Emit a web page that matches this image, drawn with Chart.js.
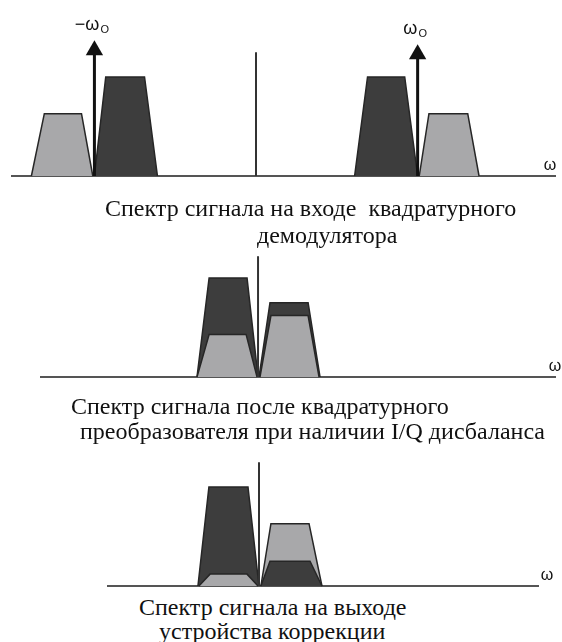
<!DOCTYPE html>
<html>
<head>
<meta charset="utf-8">
<script src="https://cdn.jsdelivr.net/npm/chart.js@4.4.0/dist/chart.umd.min.js"></script>
<style>
  html, body { margin: 0; padding: 0; background: #fff; }
  #page { position: relative; width: 562px; height: 642px; overflow: hidden; }
  .panel { position: absolute; left: 0; width: 562px; }
  .cap {
    position: absolute; white-space: pre; color: #111;
    font-family: "Liberation Serif", "Times New Roman", serif;
    font-size: 24px; line-height: 24px;
  }
</style>
</head>
<body>
<div id="page">
  <div class="panel" style="top:-3px;height:189px;width:565px"><canvas id="inChart"></canvas></div>
  <div class="panel" style="top:200px;height:181px"><canvas id="iqChart"></canvas></div>
  <div class="panel" style="top:410px;height:180px"><canvas id="corrChart"></canvas></div>

  <div class="cap" style="left:105px;top:196px">Спектр сигнала на входе  квадратурного</div>
  <div class="cap" style="left:257px;top:223px">демодулятора</div>
  <div class="cap" style="left:71px;top:394px">Спектр сигнала после квадратурного</div>
  <div class="cap" style="left:80px;top:419px">преобразователя при наличии I/Q дисбаланса</div>
  <div class="cap" style="left:139px;top:595px">Спектр сигнала на выходе</div>
  <div class="cap" style="left:159px;top:619px">устройства коррекции</div>
</div>
<script>
  // frequency in units of ω0, amplitude relative to the strong band
  // corners of each band: [base left, top left, top right, base right]

  // panel 1 - input of quadrature demodulator
  const inLightLeftX = [-1.39, -1.31, -1.08, -1.01];
  const inDarkLeftX = [-1.00, -0.93, -0.69, -0.61];
  const inDarkRightX = [0.61, 0.69, 0.92, 1.00];
  const inLightRightX = [1.01, 1.07, 1.31, 1.38];
  const inHeights = [0.63, 1.0];          // light, dark
  const carrierX = [-1, 1];
  const carrierH = [1.27, 1.23];
  const carrierLabels = ['−ω', 'ω'];
  const inRange = [-1.51, 1.85];

  // panel 2 - after quadrature converter with I/Q imbalance
  const iqDarkLeftX = [-0.378, -0.303, -0.068, 0];
  const iqLightLeftX = [-0.378, -0.303, -0.074, -0.006];
  const iqDarkRightX = [0.006, 0.074, 0.31, 0.384];
  const iqLightRightX = [0.012, 0.08, 0.31, 0.378];
  const iqHeights = [1.0, 0.43, 0.75, 0.62]; // dark L, light L, dark R, light R
  const iqRange = [-1.344, 1.839];

  // panel 3 - output of correction unit
  const corrDarkLeftX = [-0.378, -0.31, -0.068, 0];
  const corrLightLeftX = [-0.372, -0.303, -0.074, -0.006];
  const corrLightRightX = [0.012, 0.074, 0.31, 0.39];
  const corrDarkRightX = [0.012, 0.068, 0.316, 0.39];
  const corrHeights = [1.0, 0.12, 0.63, 0.25]; // dark L, light L, light R, dark R
  const corrRange = [-0.935, 1.728];

  const zeroLineH = [1.25, 1.22, 1.25];
  const ampMax = 1.7;

  const DARK = '#3d3d3d', LIGHT = '#a8a8aa', EDGE = '#262626', AXIS = '#555';

  function trap(xs, h) {
    return [{ x: xs[0], y: 0 }, { x: xs[1], y: h }, { x: xs[2], y: h }, { x: xs[3], y: 0 }];
  }
  function band(xs, h, color, order) {
    return {
      data: trap(xs, h), backgroundColor: color, borderColor: EDGE, borderWidth: 1.5,
      fill: 'origin', pointRadius: 0, tension: 0, order: order, clip: false
    };
  }
  function stem(h) {
    return {
      data: [{ x: 0, y: 0 }, { x: 0, y: h }], borderColor: '#333', borderWidth: 2,
      fill: false, pointRadius: 0, order: 1, clip: false
    };
  }
  function arrow(x, h, label) {
    return {
      data: [{ x: x, y: 0 }, { x: x, y: h }], borderColor: '#111', borderWidth: 3,
      fill: false, pointRadius: [0, 10], pointStyle: 'triangle', pointBorderWidth: 0,
      pointBackgroundColor: '#111', order: 0, clip: false, carrierLabel: label
    };
  }

  // draws ω labels: carrier arrows and end of frequency axis
  const omegaLabels = {
    id: 'omegaLabels',
    afterDatasetsDraw(chart, args, opts) {
      const ctx = chart.ctx;
      ctx.save();
      ctx.fillStyle = '#111';
      ctx.textBaseline = 'alphabetic';
      chart.data.datasets.forEach((ds, i) => {
        if (!ds.carrierLabel) return;
        const pt = chart.getDatasetMeta(i).data[1];
        ctx.font = '18px "Liberation Sans", Arial, sans-serif';
        const w1 = ctx.measureText(ds.carrierLabel).width;
        ctx.font = '11px "Liberation Sans", Arial, sans-serif';
        const w2 = ctx.measureText('O').width;
        const x0 = pt.x - 3 - (w1 + w2) / 2;
        const y0 = pt.y - 20;
        ctx.font = '18px "Liberation Sans", Arial, sans-serif';
        ctx.fillText(ds.carrierLabel, x0, y0);
        ctx.font = '11px "Liberation Sans", Arial, sans-serif';
        ctx.fillText('O', x0 + w1 + 1, y0 + 3);
      });
      const area = chart.chartArea;
      ctx.font = '16px "Liberation Sans", Arial, sans-serif';
      ctx.textAlign = 'center';
      ctx.fillText('ω', area.right + opts.dx, area.bottom - 6);
      ctx.restore();
    }
  };

  function makeChart(id, datasets, range, pad, dx) {
    return new Chart(document.getElementById(id), {
      type: 'line',
      data: { datasets: datasets },
      options: {
        responsive: true,
        maintainAspectRatio: false,
        animation: false,
        events: [],
        layout: { padding: pad },
        plugins: { legend: { display: false }, tooltip: { enabled: false }, omegaLabels: { dx: dx } },
        scales: {
          x: {
            type: 'linear', min: range[0], max: range[1],
            ticks: { display: false },
            grid: { display: false, drawTicks: false },
            border: { display: true, color: AXIS, width: 2 }
          },
          y: { display: false, min: 0, max: ampMax }
        }
      },
      plugins: [omegaLabels]
    });
  }

  makeChart('inChart', [
    arrow(carrierX[0], carrierH[0], carrierLabels[0]),
    arrow(carrierX[1], carrierH[1], carrierLabels[1]),
    stem(zeroLineH[0]),
    band(inLightLeftX, inHeights[0], LIGHT, 2),
    band(inDarkLeftX, inHeights[1], DARK, 2),
    band(inDarkRightX, inHeights[1], DARK, 2),
    band(inLightRightX, inHeights[0], LIGHT, 2)
  ], inRange, { left: 12, right: 10, top: 10.7, bottom: 10 }, -5);

  makeChart('iqChart', [
    stem(zeroLineH[1]),
    band(iqDarkLeftX, iqHeights[0], DARK, 3),
    band(iqLightLeftX, iqHeights[1], LIGHT, 2),
    band(iqDarkRightX, iqHeights[2], DARK, 3),
    band(iqLightRightX, iqHeights[3], LIGHT, 2)
  ], iqRange, { left: 41, right: 7, top: 8.7, bottom: 4 }, 0);

  makeChart('corrChart', [
    stem(zeroLineH[2]),
    band(corrDarkLeftX, corrHeights[0], DARK, 3),
    band(corrLightLeftX, corrHeights[1], LIGHT, 2),
    band(corrLightRightX, corrHeights[2], LIGHT, 3),
    band(corrDarkRightX, corrHeights[3], DARK, 2)
  ], corrRange, { left: 108, right: 24, top: 7.7, bottom: 4 }, 9);
</script>
</body>
</html>
